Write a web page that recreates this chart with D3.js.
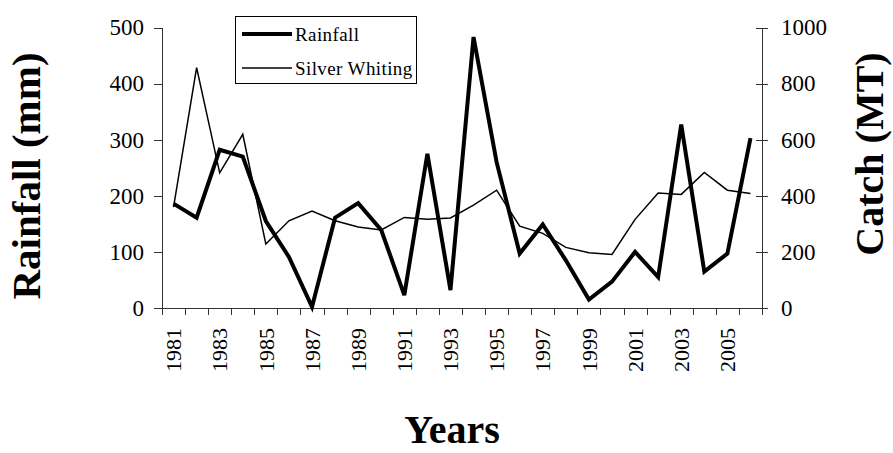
<!DOCTYPE html>
<html>
<head>
<meta charset="utf-8">
<script src="https://cdn.jsdelivr.net/npm/d3@7"></script>
<style>
  body { margin: 0; background: #fff; }
  svg { display: block; }
  .axis path, .axis line { stroke: #333; shape-rendering: crispEdges; }
  .axis text { font-family: "Liberation Serif", "Times New Roman", serif; font-size: 23px; fill: #000; }
</style>
</head>
<body>
<script>
'use strict';

// chart data
let years = d3.range(1981, 2007);
let rainfall = [186, 161, 282, 270, 155, 91, 2, 161, 187, 139, 23, 275, 32, 483, 260, 97, 149, 85, 15, 47, 100, 55, 327, 65, 97, 303];
let whiting = [360, 857, 482, 619, 228, 311, 346, 311, 289, 278, 323, 316, 321, 367, 420, 292, 266, 216, 197, 191, 316, 410, 405, 483, 420, 408];
let leftTicks = [0, 100, 200, 300, 400, 500];
let rightTicks = [0, 200, 400, 600, 800, 1000];
let labelYears = years.filter((y) => y % 2 === 1);

(function () {
  let svg = d3.select('body').append('svg')
    .attr('width', 893)
    .attr('height', 453);

  let left = 162, right = 762, top = 27.5, bottom = 308;

  // band scale for the categories, linear one for the category boundaries
  let xBand = d3.scaleBand().domain(years).range([left, right]);
  let xEdge = d3.scaleLinear().domain([0, years.length]).range([left, right]);
  let xMid = (d) => xBand(d) + xBand.bandwidth() / 2;

  let yLeft = d3.scaleLinear().domain([0, 500]).range([bottom, top]);
  let yRight = d3.scaleLinear().domain([0, 1000]).range([bottom, top]);

  // left axis
  svg.append('g')
    .attr('class', 'axis')
    .attr('transform', 'translate(' + left + ',0)')
    .call(d3.axisLeft(yLeft).tickValues(leftTicks).tickFormat(d3.format('d'))
      .tickSize(8).tickSizeOuter(0).tickPadding(10));

  // right axis, ticks cross the line
  let gRight = svg.append('g')
    .attr('class', 'axis')
    .attr('transform', 'translate(' + right + ',0)')
    .call(d3.axisRight(yRight).tickValues(rightTicks).tickFormat(d3.format('d'))
      .tickSize(6).tickSizeOuter(0).tickPadding(13));
  gRight.selectAll('.tick line').attr('x1', -6);

  // bottom axis: ticks at category edges
  svg.append('g')
    .attr('class', 'axis')
    .attr('transform', 'translate(0,' + bottom + ')')
    .call(d3.axisBottom(xEdge).tickValues(d3.range(years.length + 1)).tickFormat('').tickSize(7).tickSizeOuter(0));

  // year labels, rotated
  let gLabels = svg.append('g')
    .attr('class', 'axis')
    .attr('transform', 'translate(0,' + bottom + ')')
    .call(d3.axisBottom(xBand).tickValues(labelYears).tickSize(0).tickPadding(0));
  gLabels.select('.domain').remove();
  gLabels.selectAll('text')
    .style('font-size', '22px')
    .attr('transform', 'rotate(-90)')
    .attr('text-anchor', 'end')
    .attr('x', -20)
    .attr('y', 0)
    .attr('dy', '0.35em');

  // lines
  let lineRain = d3.line()
    .x((d, i) => xMid(years[i]))
    .y((d) => yLeft(d));
  let lineCatch = d3.line()
    .x((d, i) => xMid(years[i]))
    .y((d) => yRight(d));

  svg.append('path')
    .datum(whiting)
    .attr('fill', 'none')
    .attr('stroke', '#000')
    .attr('stroke-width', 1.5)
    .attr('d', lineCatch);

  svg.append('path')
    .datum(rainfall)
    .attr('fill', 'none')
    .attr('stroke', '#000')
    .attr('stroke-width', 4)
    .attr('d', lineRain);

  // axis titles
  let serif = '"Liberation Serif", "Times New Roman", serif';
  svg.append('text')
    .attr('transform', 'translate(40,176)rotate(-90)')
    .attr('text-anchor', 'middle')
    .style('font-family', serif)
    .style('font-weight', 'bold')
    .style('font-size', '41px')
    .text('Rainfall (mm)');

  svg.append('text')
    .attr('transform', 'translate(883,154)rotate(-90)')
    .attr('text-anchor', 'middle')
    .style('font-family', serif)
    .style('font-weight', 'bold')
    .style('font-size', '40px')
    .text('Catch (MT)');

  svg.append('text')
    .attr('x', 452)
    .attr('y', 443)
    .attr('text-anchor', 'middle')
    .style('font-family', serif)
    .style('font-weight', 'bold')
    .style('font-size', '40px')
    .text('Years');

  // legend
  let legend = svg.append('g');
  legend.append('rect')
    .attr('x', 235.5)
    .attr('y', 16.5)
    .attr('width', 181)
    .attr('height', 67)
    .attr('fill', '#fff')
    .attr('stroke', '#000')
    .attr('stroke-width', 1);

  let items = [
    { name: 'Rainfall', width: 4, y: 34 },
    { name: 'Silver Whiting', width: 1.5, y: 68 }
  ];
  items.forEach((it) => {
    legend.append('line')
      .attr('x1', 242).attr('x2', 292)
      .attr('y1', it.y).attr('y2', it.y)
      .attr('stroke', '#000')
      .attr('stroke-width', it.width);
    legend.append('text')
      .attr('x', 295)
      .attr('y', it.y + 7)
      .style('font-family', serif)
      .style('font-size', '19px')
      .style('letter-spacing', '0.4px')
      .text(it.name);
  });
})();
</script>
</body>
</html>
